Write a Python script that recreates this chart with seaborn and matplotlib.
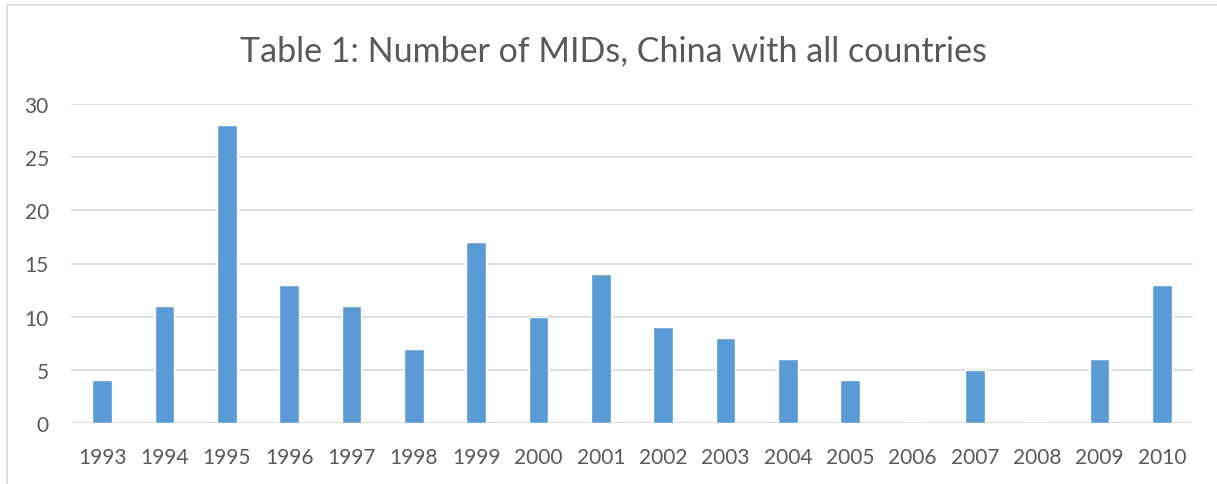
import matplotlib
matplotlib.use("Agg")
import matplotlib.pyplot as plt
import seaborn as sns
import pandas as pd
from matplotlib.patches import Rectangle

years = ["1993", "1994", "1995", "1996", "1997", "1998", "1999", "2000", "2001",
         "2002", "2003", "2004", "2005", "2006", "2007", "2008", "2009", "2010"]
mids = [4, 11, 28, 13, 11, 7, 17, 10, 14, 9, 8, 6, 4, 0, 5, 0, 6, 13]
y_ticks = [0, 5, 10, 15, 20, 25, 30]

df = pd.DataFrame({"year": years, "mids": mids})

sns.set_theme(style="white")
plt.rcParams["font.family"] = ["Lato", "DejaVu Sans"]
text_color = "#595959"

W, H = 1217, 485
fig = plt.figure(figsize=(W / 100, H / 100), dpi=100)
ax = fig.add_axes([71 / W, 1 - 424 / H, (1193 - 71) / W, (424 - 105) / H])

sns.barplot(data=df, x="year", y="mids", color="#5B9BD5", width=0.32,
            saturation=1, ax=ax, zorder=3)

ax.set_ylim(0, 30)
ax.set_yticks(y_ticks)
ax.set_xlim(-0.5, len(years) - 0.5)
ax.grid(axis="y", color="#D9D9D9", linewidth=1.2, zorder=0)
for s in ax.spines.values():
    s.set_visible(False)
ax.tick_params(axis="both", length=0, labelsize=15, labelcolor=text_color)
ax.tick_params(axis="x", pad=17)
ax.tick_params(axis="y", pad=16)
ax.set_xlabel("")
ax.set_ylabel("")

fig.text(613 / W, 1 - 51 / H, "Table 1: Number of MIDs, China with all countries",
         ha="center", va="center", fontsize=24.5, color=text_color)

# chart-area frame
fig.patches.append(Rectangle((7 / W, -0.1), 1.2, 1 - 6 / H + 0.1,
                             transform=fig.transFigure, fill=False,
                             edgecolor="#D9D9D9", linewidth=1.2))

fig.savefig("out.png", dpi=100)
